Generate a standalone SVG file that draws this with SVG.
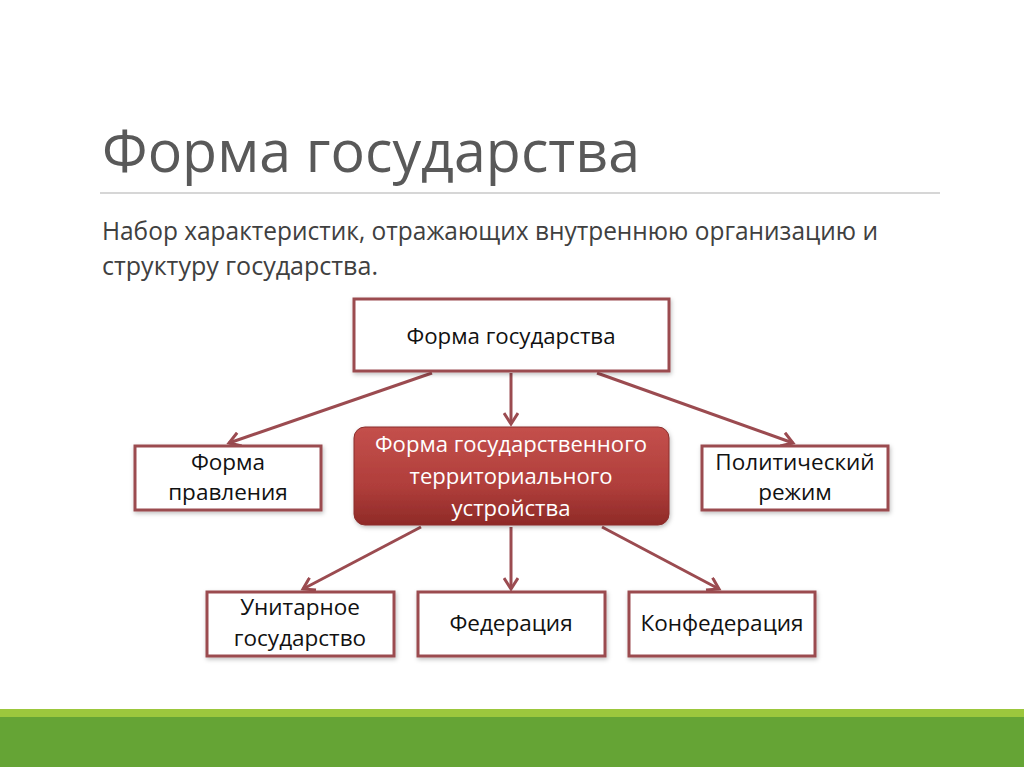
<svg xmlns="http://www.w3.org/2000/svg" width="1024" height="767" viewBox="0 0 1024 767">
<style>
.box{fill:#ffffff;stroke:#9b4b50;stroke-width:3}
.lbl{font-family:"Open Sans","Noto Sans",sans-serif;font-size:22.5px;fill:#111111;text-anchor:middle}
.wl{font-family:"Open Sans","Noto Sans",sans-serif;font-size:22px;fill:#ffffff;text-anchor:middle}
.conn{stroke:#9b4b50;stroke-width:3;fill:none}
</style>
<defs>
<marker id="ah" markerUnits="userSpaceOnUse" markerWidth="16" markerHeight="16" refX="13" refY="8" orient="auto">
<path d="M2,1 L13,8 L2,15" fill="none" stroke="#9b4b50" stroke-width="3"/>
</marker>
<linearGradient id="rg" x1="0" y1="0" x2="0" y2="1">
<stop offset="0" stop-color="#c4504c"/>
<stop offset="0.6" stop-color="#b03e3b"/>
<stop offset="1" stop-color="#8f2a27"/>
</linearGradient>
<filter id="sh" x="-10%" y="-10%" width="120%" height="130%">
<feDropShadow dx="1" dy="2" stdDeviation="2" flood-color="#000" flood-opacity="0.25"/>
</filter>
</defs>
<rect x="0" y="0" width="1024" height="767" fill="#ffffff"/>
<g id="title">
<text x="102" y="172" font-family="'Open Sans','Noto Sans',sans-serif" font-size="58" fill="#595959" textLength="538" lengthAdjust="spacingAndGlyphs">Форма государства</text>
<line x1="100" y1="193" x2="940" y2="193" stroke="#c8c8c8" stroke-width="1.5"/>
</g>
<g id="subtitle" font-family="'Open Sans','Noto Sans',sans-serif" font-size="25" fill="#404040">
<text x="102" y="240" textLength="776" lengthAdjust="spacingAndGlyphs">Набор характеристик, отражающих внутреннюю организацию и</text>
<text x="102" y="275" textLength="276" lengthAdjust="spacingAndGlyphs">структуру государства.</text>
</g>
<g id="connectors">
<line class="conn" x1="432" y1="373" x2="229" y2="443" marker-end="url(#ah)"/>
<line class="conn" x1="511" y1="373" x2="511" y2="424" marker-end="url(#ah)"/>
<line class="conn" x1="597" y1="373" x2="793" y2="443" marker-end="url(#ah)"/>
<line class="conn" x1="421" y1="527" x2="303" y2="589" marker-end="url(#ah)"/>
<line class="conn" x1="511" y1="527" x2="511" y2="589" marker-end="url(#ah)"/>
<line class="conn" x1="602" y1="527" x2="719" y2="589" marker-end="url(#ah)"/>
</g>
<g id="node-top">
<rect class="box" x="354" y="299" width="315" height="72" filter="url(#sh)"/>
<text class="lbl" x="511" y="344" textLength="209" lengthAdjust="spacingAndGlyphs">Форма государства</text>
</g>
<g id="node-pravl">
<rect class="box" x="135" y="446" width="186" height="64" filter="url(#sh)"/>
<text class="lbl" x="228" y="470">Форма</text>
<text class="lbl" x="228" y="500">правления</text>
</g>
<g id="node-rezhim">
<rect class="box" x="702" y="446" width="186" height="64" filter="url(#sh)"/>
<text class="lbl" x="795" y="470">Политический</text>
<text class="lbl" x="795" y="500">режим</text>
</g>
<g id="node-territ">
<rect x="354" y="427" width="315" height="98" rx="11" ry="11" fill="url(#rg)" stroke="#8a2e2c" stroke-width="1" filter="url(#sh)"/>
<text class="wl" x="511" y="452" textLength="272" lengthAdjust="spacingAndGlyphs">Форма государственного</text>
<text class="wl" x="511" y="484" textLength="203" lengthAdjust="spacingAndGlyphs">территориального</text>
<text class="wl" x="511" y="516" textLength="119" lengthAdjust="spacingAndGlyphs">устройства</text>
</g>
<g id="node-unitar">
<rect class="box" x="207" y="592" width="187" height="64" filter="url(#sh)"/>
<text class="lbl" x="300" y="615">Унитарное</text>
<text class="lbl" x="300" y="646">государство</text>
</g>
<g id="node-feder">
<rect class="box" x="418" y="592" width="187" height="64" filter="url(#sh)"/>
<text class="lbl" x="511" y="631">Федерация</text>
</g>
<g id="node-konfeder">
<rect class="box" x="629" y="592" width="186" height="64" filter="url(#sh)"/>
<text class="lbl" x="722" y="631" textLength="163" lengthAdjust="spacingAndGlyphs">Конфедерация</text>
</g>
<g id="footer">
<rect x="0" y="709" width="1024" height="9" fill="#9cc73d"/>
<rect x="0" y="717" width="1024" height="50" fill="#65a435"/>
</g>
</svg>
